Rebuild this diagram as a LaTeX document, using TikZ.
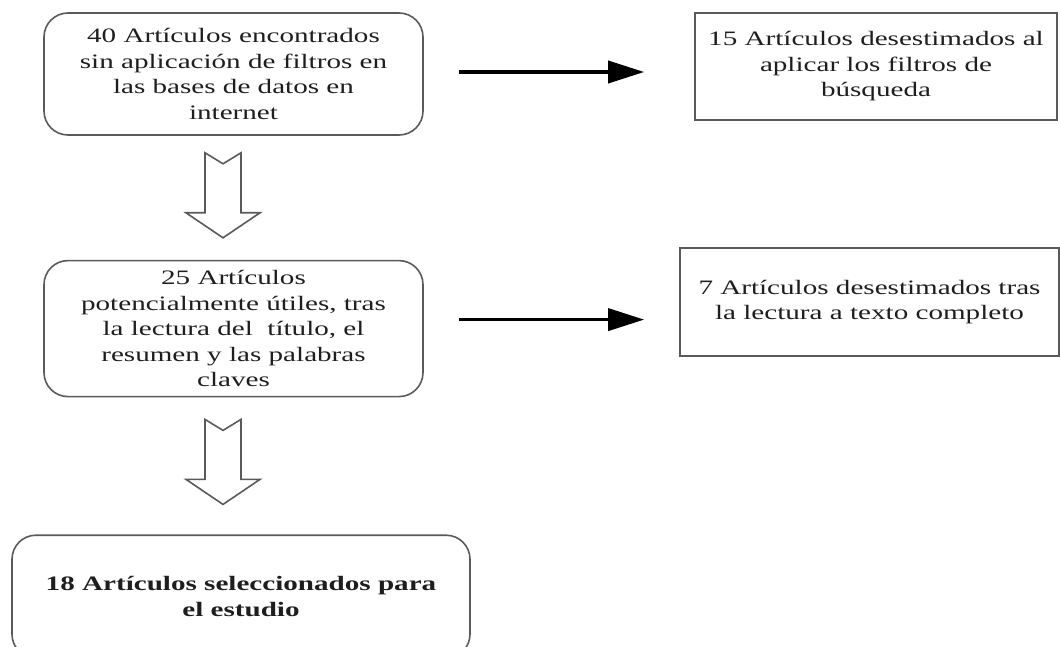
\documentclass[tikz,border=0pt]{standalone}
\usepackage{fontspec}
\setmainfont{Liberation Serif}[FakeStretch=1.42]
\usepackage{tikz}
\usetikzlibrary{positioning}
\usetikzlibrary{calc}
\usetikzlibrary{arrows.meta}
\definecolor{boxline}{HTML}{5A5A5A}
\definecolor{boxtext}{HTML}{1E1E1E}
\tikzset{
	roundbox/.style={draw=boxline, line width=1.6pt, rounded corners=24pt, minimum width=379pt, align=center, text=boxtext, font=\fontsize{20.5}{25.5}\selectfont},
	plainbox/.style={draw=boxline, line width=1.6pt, align=center, text=boxtext, font=\fontsize{20.5}{25.5}\selectfont},
	passarrow/.style={line width=3.6pt, -{Triangle[length=36pt,width=22pt]}},
	downblock/.pic={
		\draw[boxline, line width=1.6pt, line join=miter] (-18,0) -- (0,11) -- (18,0) -- (18,60) -- (37,60) -- (0,85) -- (-37,60) -- (-18,60) -- cycle;
	}
}

\begin{document}
\begin{tikzpicture}[x=1pt, y=-1pt]
	\useasboundingbox (0,0) rectangle (1060,647);
	% Step 1
	\node [roundbox, minimum height=122pt] at (233.5,74) (1Enc) {40 Artículos encontrados\\sin aplicación de filtros en\\las bases de datos en\\internet};
	\node [plainbox, minimum width=362pt, minimum height=107pt] at (876,66.5) (1Des) {15 Artículos desestimados al\\aplicar los filtros de\\búsqueda};
	
	% Step 2
	\node [roundbox, minimum height=136pt, below=124pt of 1Enc] (2Pot) {25 Artículos\\potencialmente útiles, tras\\la lectura del\ \ título, el\\resumen y las palabras\\claves};
	\node [plainbox, minimum width=379pt, minimum height=108pt] at (869.5,302) (2Des) {7 Artículos desestimados tras\\la lectura a texto completo};
	
	% Step 3
	\node [roundbox, minimum width=458pt, minimum height=123pt, below=137pt of 2Pot, xshift=7.5pt] (3Sel) {\textbf{18 Artículos seleccionados para}\\\textbf{el estudio}};
	
	% Connections
	\draw [passarrow, shorten <=35pt, shorten >=50pt] ($(1Enc.east)+(0,-2)$) -- ($(1Enc.east -| 1Des.west)+(0,-2)$);
	\draw [passarrow, shorten <=35pt, shorten >=35pt] ($(2Pot.east)+(0,-9)$) -- ($(2Pot.east -| 2Des.west)+(0,-9)$);
	\pic at ($(1Enc.south)+(-10.5,17)$) {downblock};
	\pic at ($(2Pot.south)+(-10.5,22)$) {downblock};
\end{tikzpicture}
\end{document}
